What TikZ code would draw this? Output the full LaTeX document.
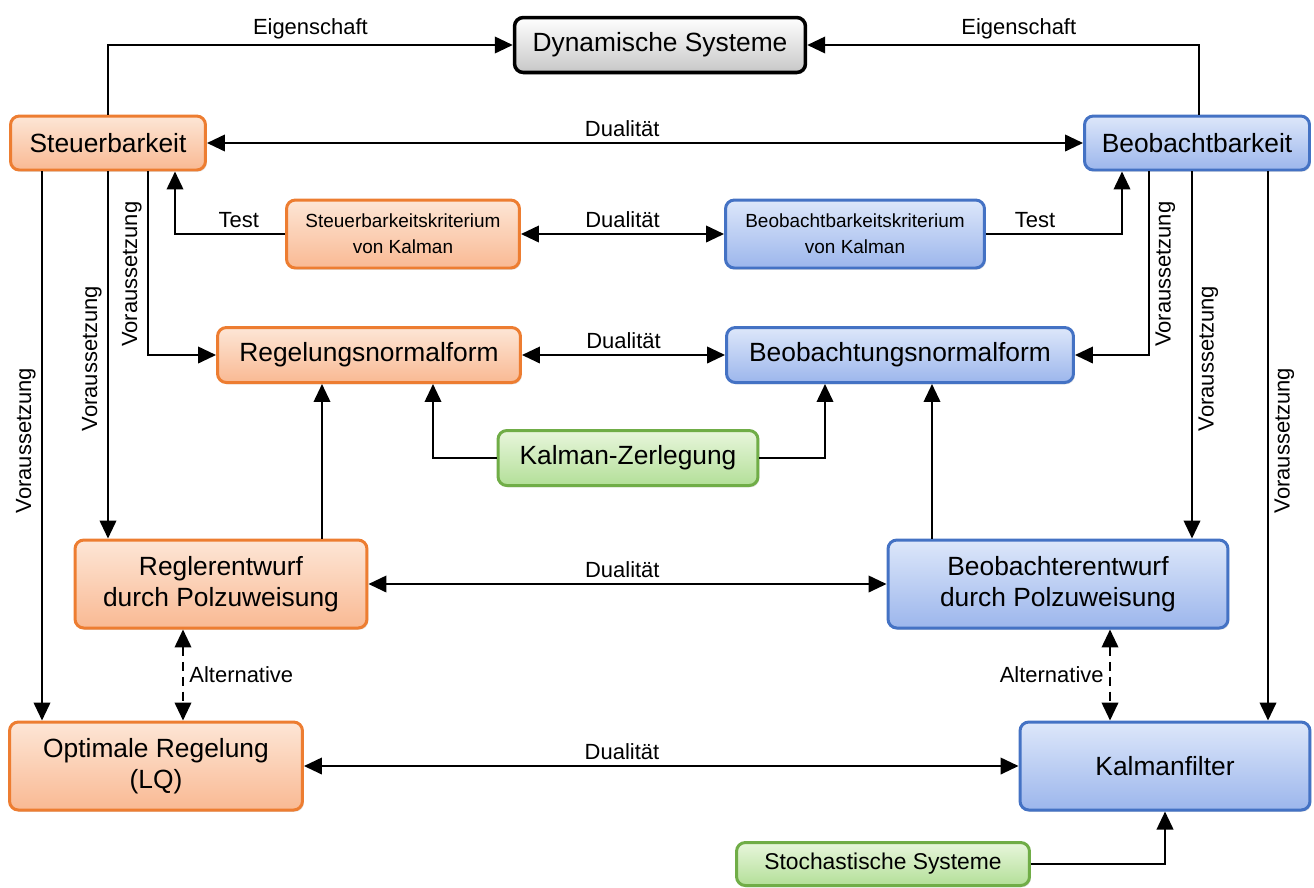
\documentclass[tikz,border=0pt]{standalone}
\usepackage{fontspec}
\setmainfont{Liberation Sans}
\usetikzlibrary{arrows.meta,positioning,calc,shadows}
\definecolor{ctOrange}{HTML}{ED7D31}
\definecolor{ctOrangeTop}{HTML}{FDE6D6}
\definecolor{ctOrangeBot}{HTML}{F9B993}
\definecolor{ctBlue}{HTML}{4472C4}
\definecolor{ctBlueTop}{HTML}{DDE7FA}
\definecolor{ctBlueBot}{HTML}{9CB6EC}
\definecolor{ctGreen}{HTML}{70AD47}
\definecolor{ctGreenTop}{HTML}{E8F6DC}
\definecolor{ctGreenBot}{HTML}{B3DF98}
\definecolor{ctInk}{HTML}{000000}
\tikzset{
  box/.style={draw,line width=1.7pt,rounded corners=5pt,align=center,text=ctInk,
    font=\fontsize{15}{18}\selectfont,inner sep=2pt,
    drop shadow={opacity=.22,shadow xshift=.8pt,shadow yshift=-1pt}},
  ctrl/.style={box,draw=ctOrange,top color=ctOrangeTop,bottom color=ctOrangeBot},
  obs/.style={box,draw=ctBlue,top color=ctBlueTop,bottom color=ctBlueBot},
  tool/.style={box,draw=ctGreen,top color=ctGreenTop,bottom color=ctGreenBot},
  root/.style={box,draw=ctInk,line width=2pt,top color=white,bottom color=black!22},
  link/.style={-{Triangle[length=3.6mm,width=3.3mm]},draw=ctInk,line width=1.3pt},
  duplex/.style={{Triangle[length=3.6mm,width=3.3mm]}-{Triangle[length=3.6mm,width=3.3mm]},draw=ctInk,line width=1.3pt},
  altlink/.style={duplex,dash pattern=on 5pt off 3.5pt},
  note/.style={font=\fontsize{12.5}{15}\selectfont,text=ctInk,inner sep=3pt},
}

\begin{document}
\begin{tikzpicture}[x=0.02cm,y=-0.02cm]
  \useasboundingbox (0,0) rectangle (1314,887);
  \node[root,minimum width=5.82cm,minimum height=1.1cm] (dyn) at (660,45) {Dynamische Systeme};
  \node[ctrl,minimum width=3.9cm,minimum height=1.08cm] (steuer) at (108,143) {Steuerbarkeit};
  \node[obs,minimum width=4.5cm,minimum height=1.08cm] (beob) at (1197,143) {Beobachtbarkeit};
  \node[ctrl,minimum width=4.66cm,minimum height=1.36cm,font=\fontsize{10.8}{15}\selectfont] (stk) at (403,234)
    {Steuerbarkeitskriterium\\von Kalman};
  \node[obs,minimum width=5.18cm,minimum height=1.36cm,font=\fontsize{10.8}{15}\selectfont] (bk) at (855,234)
    {Beobachtbarkeitskriterium\\von Kalman};
  \node[ctrl,minimum width=6.06cm,minimum height=1.1cm] (rnf) at (369,355) {Regelungsnormalform};
  \node[obs,minimum width=6.94cm,minimum height=1.1cm] (bnf) at (900,355) {Beobachtungsnormalform};
  \node[tool,minimum width=5.2cm,minimum height=1.1cm] (kz) at (628,458) {Kalman-Zerlegung};
  \node[ctrl,minimum width=5.84cm,minimum height=1.76cm] (rge) at (221,584) {Reglerentwurf\\durch Polzuweisung};
  \node[obs,minimum width=6.8cm,minimum height=1.76cm] (bge) at (1058,584) {Beobachterentwurf\\durch Polzuweisung};
  \node[ctrl,minimum width=5.86cm,minimum height=1.76cm] (olq) at (156,766) {Optimale Regelung\\(LQ)};
  \node[obs,minimum width=5.8cm,minimum height=1.76cm] (kf) at (1165,766) {Kalmanfilter};
  \node[tool,minimum width=5.86cm,minimum height=0.86cm,font=\fontsize{13}{16}\selectfont] (stoch) at (883,864)
    {Stochastische Systeme};

  % Eigenschaft
  \draw[link] (steuer.north) |- node[note,pos=.75,above] {Eigenschaft} (dyn.west);
  \draw[link] (beob.north -| 1199,0) |- node[note,pos=.73,above] {Eigenschaft} (dyn.east);
  % Dualitaet
  \draw[duplex] (steuer.east) -- node[note,pos=.474,above] {Dualität} (beob.west);
  \draw[duplex] (stk.east) -- node[note,above] {Dualität} (bk.west);
  \draw[duplex] (rnf.east) -- node[note,above] {Dualität} (bnf.west);
  \draw[duplex] (rge.east) -- node[note,pos=.49,above] {Dualität} (bge.west);
  \draw[duplex] (olq.east) -- node[note,pos=.445,above] {Dualität} (kf.west);
  % Test
  \draw[link] (stk.west) -| node[note,pos=.21,above] {Test} (steuer.south -| 175,0);
  \draw[link] (bk.east) -| node[note,pos=.18,above] {Test} (beob.south -| 1122,0);
  % Voraussetzung
  \draw[link] (steuer.south -| 148,0) |- node[note,pos=.28,rotate=90,anchor=south] {Voraussetzung} (rnf.west);
  \draw[link] (steuer.south) -- node[note,pos=.51,rotate=90,anchor=south] {Voraussetzung} (steuer.south |- rge.north);
  \draw[link] (steuer.south -| 42,0) -- node[note,pos=.49,rotate=90,anchor=south] {Voraussetzung} (42,0 |- olq.north);
  \draw[link] (beob.south -| 1149,0) |- node[note,pos=.28,rotate=90,anchor=north] {Voraussetzung} (bnf.east);
  \draw[link] (beob.south -| 1192,0) -- node[note,pos=.51,rotate=90,anchor=north] {Voraussetzung} (1192,0 |- bge.north);
  \draw[link] (beob.south -| 1268,0) -- node[note,pos=.49,rotate=90,anchor=north] {Voraussetzung} (1268,0 |- kf.north);
  % Normalformen
  \draw[link] (kz.west) -| (rnf.south -| 433,0);
  \draw[link] (kz.east) -| (bnf.south -| 825,0);
  \draw[link] (rge.north -| 322,0) -- (322,0 |- rnf.south);
  \draw[link] (bge.north -| 932,0) -- (932,0 |- bnf.south);
  % Alternative
  \draw[altlink] (rge.south -| 183,0) -- node[note,right] {Alternative} (183,0 |- olq.north);
  \draw[altlink] (bge.south -| 1110,0) -- node[note,left] {Alternative} (1110,0 |- kf.north);
  \draw[link] (stoch.east) -| (kf.south);
\end{tikzpicture}
\end{document}
